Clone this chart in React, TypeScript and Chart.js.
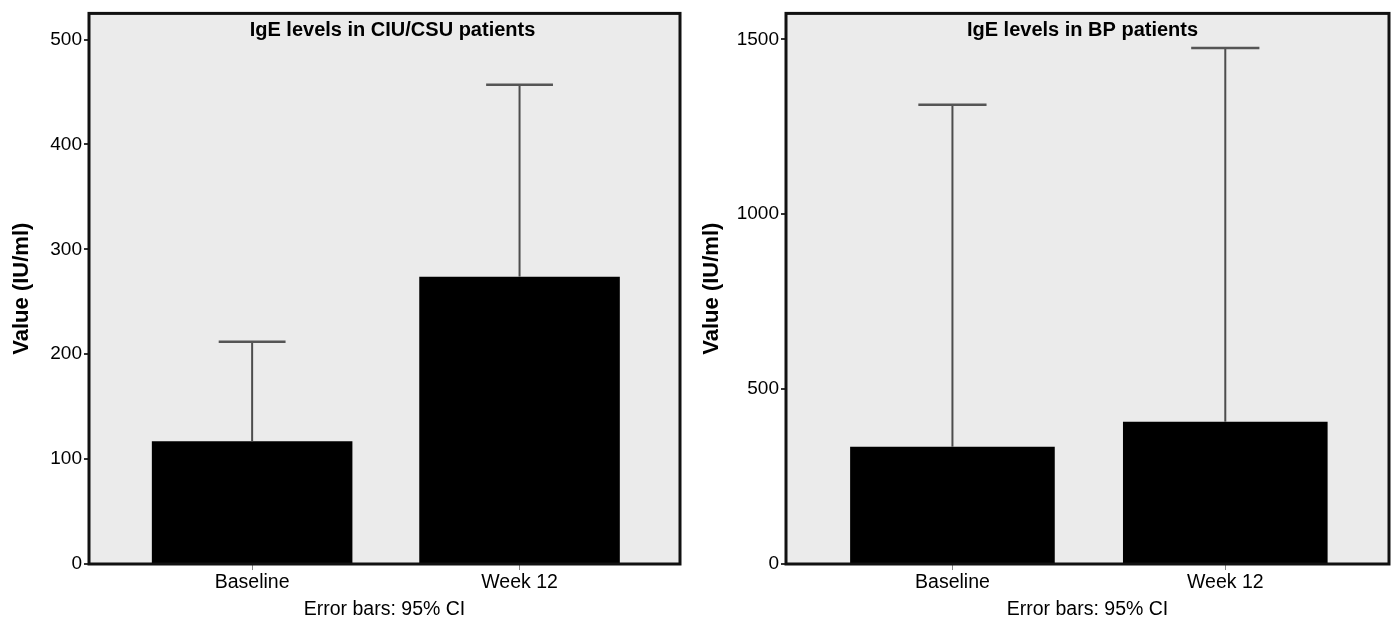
import React, { useEffect, useRef } from "react";
import { Chart, registerables } from "chart.js";

Chart.register(...registerables);

const categories = ["Baseline", "Week 12"];
const ciuTitle = "IgE levels in CIU/CSU patients";
const ciuMeans = [117, 274];
const ciuUpper = [212, 457];
const ciuAxisMax = 525;
const ciuTicks = [0, 100, 200, 300, 400, 500];

const bpTitle = "IgE levels in BP patients";
const bpMeans = [335, 407];
const bpUpper = [1313, 1475];
const bpAxisMax = 1574;
const bpTicks = [0, 500, 1000, 1500];

const yAxisTitle = "Value (IU/ml)";
const xAxisTitle = "Error bars: 95% CI";

const FONT = "'Liberation Sans', Arial, Helvetica, sans-serif";

type PanelProps = {
  title: string;
  means: number[];
  upper: number[];
  axisMax: number;
  ticks: number[];
  width: number;
  left: number;
  yWidth: number;
  yTitlePad: number;
  padRight: number;
  titleDx: number;
};

function Panel(p: PanelProps) {
  const ref = useRef<HTMLCanvasElement | null>(null);
  useEffect(() => {
    if (!ref.current) return;
    const bgPlugin = {
      id: "bgframe",
      beforeDraw(chart: any) {
        const { ctx, chartArea: a } = chart;
        ctx.save();
        ctx.fillStyle = "#ebebeb";
        ctx.fillRect(a.left, a.top, a.right - a.left, a.bottom - a.top);
        ctx.restore();
      },
      afterDatasetsDraw(chart: any) {
        const { ctx, chartArea: a } = chart;
        const meta = chart.getDatasetMeta(0);
        const xs = chart.scales.x;
        const ys = chart.scales.y;
        const half = xs.getPixelForValue(0.125) - xs.getPixelForValue(0);
        ctx.save();
        p.upper.forEach((u, i) => {
          const bar = meta.data[i];
          const x = bar.x;
          const yTop = ys.getPixelForValue(u);
          const yMean = ys.getPixelForValue(p.means[i]);
          ctx.strokeStyle = "#4d4d4d";
          ctx.lineWidth = 2;
          ctx.beginPath();
          ctx.moveTo(x, yMean);
          ctx.lineTo(x, yTop);
          ctx.stroke();
          ctx.strokeStyle = "#555";
          ctx.lineWidth = 2.5;
          ctx.beginPath();
          ctx.moveTo(x - half, yTop);
          ctx.lineTo(x + half, yTop);
          ctx.stroke();
        });
        // frame
        ctx.strokeStyle = "#111";
        ctx.lineWidth = 3;
        ctx.strokeRect(a.left, a.top, a.right - a.left, a.bottom - a.top);
        // title inside plot
        ctx.fillStyle = "#000";
        ctx.font = `bold 20px ${FONT}`;
        ctx.textAlign = "center";
        ctx.textBaseline = "middle";
        ctx.fillText(p.title, (a.left + a.right) / 2 + p.titleDx, a.top + 17);
        ctx.restore();
      },
    };
    const chart = new Chart(ref.current, {
      type: "bar",
      data: {
        datasets: [
          {
            data: categories.map((c, i) => ({ x: i, y: p.means[i] })),
            backgroundColor: "#000",
            borderWidth: 0,
            barPercentage: 0.75,
            categoryPercentage: 1,
          },
        ],
      },
      options: {
        animation: false,
        responsive: false,
        events: [],
        layout: { padding: { left: 0, right: p.padRight, top: 12, bottom: 0 } },
        plugins: { legend: { display: false }, tooltip: { enabled: false } },
        scales: {
          x: {
            type: "linear",
            min: -0.61,
            max: 1.6,
            offset: false,
            afterBuildTicks(scale: any) {
              scale.ticks = categories.map((c, i) => ({ value: i }));
            },
            afterFit(scale: any) {
              scale.height = 58;
            },
            border: { display: false },
            grid: {
              offset: false,
              drawOnChartArea: false,
              drawTicks: true,
              tickLength: 6,
              color: "#888",
              lineWidth: 1,
            },
            ticks: {
              padding: 1,
              color: "#000",
              font: { family: FONT, size: 19.5 },
              maxRotation: 0,
              autoSkip: false,
              callback: (v: any) => categories[Math.round(Number(v))] ?? "",
            },
            title: {
              display: true,
              text: xAxisTitle,
              color: "#000",
              font: { family: FONT, size: 19.5 },
              padding: { top: 0, bottom: 1 },
            },
          },
          y: {
            min: 0,
            max: p.axisMax,
            afterBuildTicks(scale: any) {
              scale.ticks = p.ticks.map((v) => ({ value: v }));
            },
            afterFit(scale: any) {
              scale.width = p.yWidth;
            },
            border: { display: false },
            grid: { drawOnChartArea: false, drawTicks: true, tickLength: 5, color: "#333", lineWidth: 2 },
            ticks: {
              autoSkip: false,
              padding: 2,
              color: "#000",
              font: { family: FONT, size: 19 },
              callback: (v: any) => String(v),
            },
            title: {
              display: true,
              text: yAxisTitle,
              color: "#000",
              font: { family: FONT, size: 22, weight: "bold" },
              padding: { top: p.yTitlePad, bottom: 0 },
            },
          },
        },
      },
      plugins: [bgPlugin],
    } as any);
    return () => chart.destroy();
  }, []);
  return (
    <canvas
      ref={ref}
      width={p.width}
      height={622}
      style={{ position: "absolute", left: p.left, top: 0, width: p.width, height: 622, display: "block" }}
    />
  );
}

export default function App() {
  return (
    <div style={{ position: "absolute", left: 0, top: 0, width: 1395, height: 622, background: "#fff" }}>
      <Panel
        title={ciuTitle}
        means={ciuMeans}
        upper={ciuUpper}
        axisMax={ciuAxisMax}
        ticks={ciuTicks}
        width={693}
        left={0}
        yWidth={89}
        yTitlePad={9}
        padRight={13}
        titleDx={8}
      />
      <Panel
        title={bpTitle}
        means={bpMeans}
        upper={bpUpper}
        axisMax={bpAxisMax}
        ticks={bpTicks}
        width={702}
        left={693}
        yWidth={93}
        yTitlePad={6}
        padRight={6}
        titleDx={-5}
      />
    </div>
  );
}
